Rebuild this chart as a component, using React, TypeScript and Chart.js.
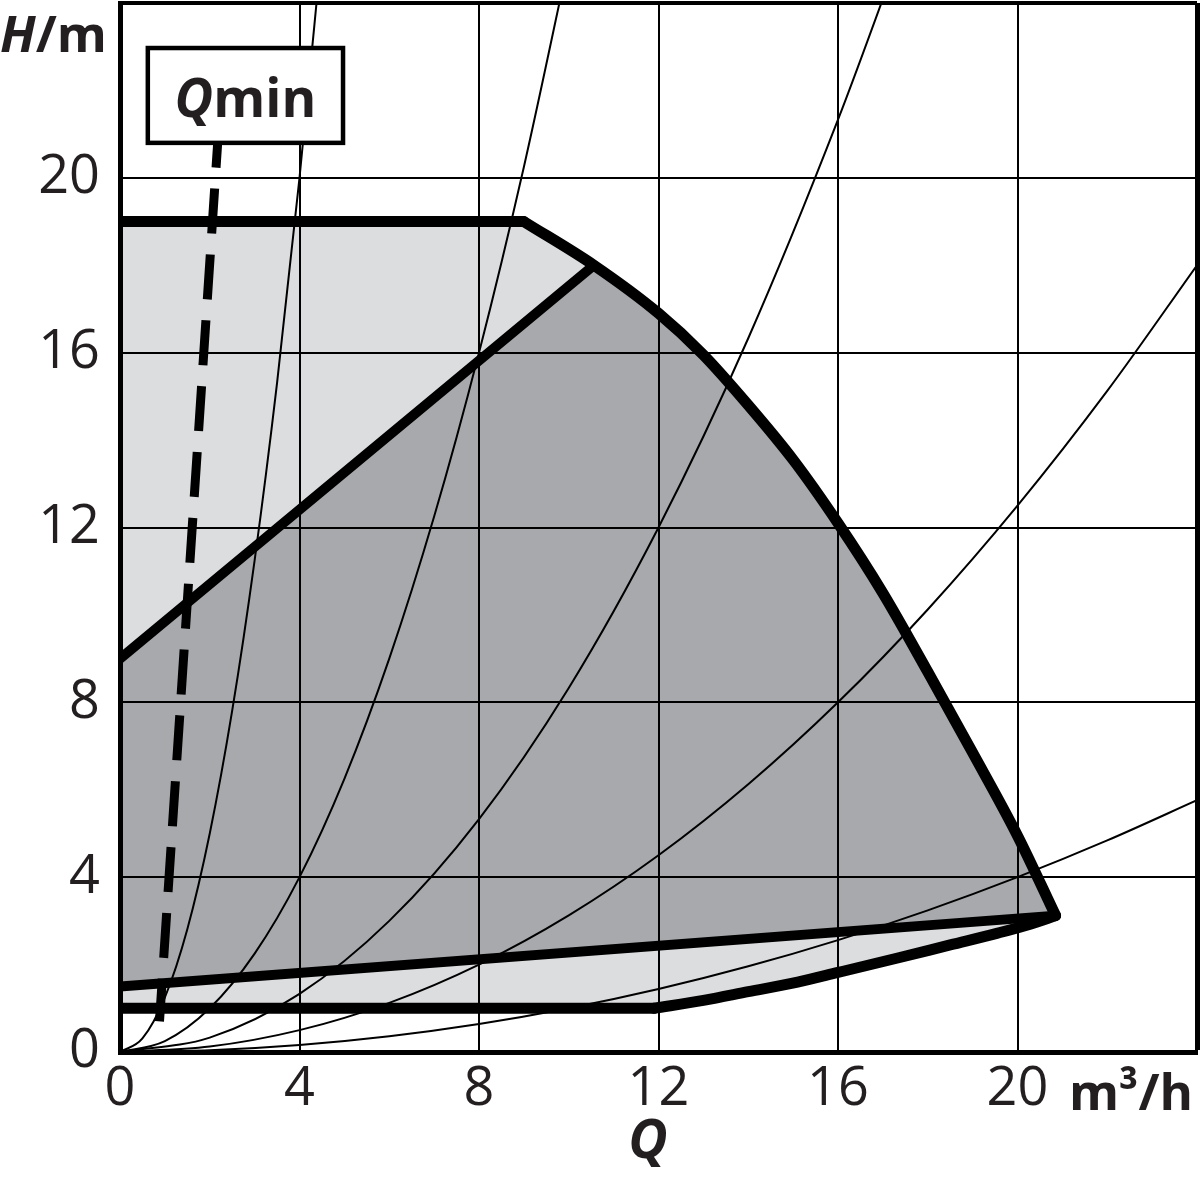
import React, { useEffect, useRef } from 'react';
import { Chart, registerables } from 'chart.js';

Chart.register(...registerables);

const FONT = "'Open Sans', 'Noto Sans', sans-serif";
const INK = '#231f20';
const LINE = '#000000';
const LIGHT_FILL = '#dcdddf';
const DARK_FILL = '#a7a9ac';

// axis ticks (labels shown)
const xTickLabels = [0, 4, 8, 12, 16, 20];
const yTickLabels = [0, 4, 8, 12, 16, 20];

// maximum pump curve (outer boundary)
const maxCurveQ = [0, 9, 10.56, 12, 13, 14, 15, 16, 17, 18, 19, 20, 20.85];
const maxCurveH = [19, 19, 18.0, 16.9, 15.95, 14.8, 13.55, 12.1, 10.5, 8.7, 6.85, 4.95, 3.12];

// minimum curve (lower boundary)
const minCurveQ = [0, 11.9, 13, 14, 15.1, 16, 17.33, 18.5, 19.56, 20.3, 20.85];
const minCurveH = [1, 1, 1.18, 1.38, 1.6, 1.82, 2.15, 2.45, 2.72, 2.93, 3.12];

// dark region edges
const darkEdgeQ = [0, 10.56];
const darkEdgeH = [9, 18.0];
const darkBottomQ = [0, 20.85];
const darkBottomH = [1.5, 3.12];

// Qmin dashed line
const qminQ = [2.18, 0.88];
const qminH = [20.85, 0.7];

// system curves
const sys1Q = [0, 0.5, 1, 1.5, 2, 2.5, 3, 3.5, 4, 4.5];
const sys1H = [0, 0.31, 1.25, 2.81, 5, 7.81, 11.25, 15.31, 20, 25.3];
const sys2Q = [0, 1, 2, 3, 4, 5, 6, 7, 8, 9, 10];
const sys2H = [0, 0.25, 1, 2.25, 4, 6.25, 9, 12.25, 16, 20.25, 25];
const sys3Q = [0, 2, 4, 6, 8, 10, 12, 14, 16, 17.5];
const sys3H = [0, 0.33, 1.33, 3, 5.33, 8.33, 12, 16.33, 21.33, 25.5];
const sys4Q = [0, 2, 4, 6, 8, 10, 12, 14, 16, 18, 20, 22, 24];
const sys4H = [0, 0.125, 0.5, 1.125, 2, 3.125, 4.5, 6.125, 8, 10.125, 12.5, 15.125, 18];
const sys5Q = [0, 2, 4, 6, 8, 10, 12, 14, 16, 18, 20, 22, 24];
const sys5H = [0, 0.04, 0.16, 0.36, 0.64, 1, 1.44, 1.96, 2.56, 3.24, 4, 4.84, 5.76];

const pts = (qs: number[], hs: number[]) => qs.map((q, i) => ({ x: q, y: hs[i] }));

type Run = { text: string; font: string; w?: number };
function drawRuns(ctx: CanvasRenderingContext2D, runs: Run[], x: number, y: number, align: string) {
  let total = 0;
  runs.forEach((r) => {
    ctx.font = r.font;
    r.w = ctx.measureText(r.text).width;
    total += r.w;
  });
  let cx = align === 'left' ? x : align === 'right' ? x - total : x - total / 2;
  ctx.textAlign = 'left';
  runs.forEach((r) => {
    ctx.font = r.font;
    ctx.fillText(r.text, cx, y);
    cx += r.w || 0;
  });
}

const labelsPlugin = {
  id: 'pumpLabels',
  afterDraw(chart: any) {
    const ctx: CanvasRenderingContext2D = chart.ctx;
    const xs = chart.scales.x;
    const ys = chart.scales.y;
    ctx.save();
    ctx.fillStyle = INK;
    ctx.textBaseline = 'alphabetic';
    drawRuns(ctx, [
      { text: 'H', font: `italic bold 51px ${FONT}` },
      { text: '/m', font: `bold 51px ${FONT}` },
    ], 0, 52, 'left');
    drawRuns(ctx, [{ text: 'm³/h', font: `bold 51px ${FONT}` }], 1193, 1110, 'right');
    drawRuns(ctx, [{ text: 'Q', font: `italic bold 54px ${FONT}` }], 648, 1158, 'center');

    // Qmin box
    const l = xs.getPixelForValue(0.62);
    const r = xs.getPixelForValue(4.97);
    const t = ys.getPixelForValue(22.97);
    const b = ys.getPixelForValue(20.8);
    ctx.fillStyle = '#ffffff';
    ctx.fillRect(l, t, r - l, b - t);
    ctx.strokeStyle = LINE;
    ctx.lineWidth = 4.5;
    ctx.strokeRect(l, t, r - l, b - t);
    ctx.fillStyle = INK;
    drawRuns(ctx, [
      { text: 'Q', font: `italic bold 53px ${FONT}` },
      { text: 'min', font: `bold 53px ${FONT}` },
    ], (l + r) / 2, 117, 'center');
    ctx.restore();
  },
};

export default function App() {
  const ref = useRef<HTMLCanvasElement>(null);
  useEffect(() => {
    const canvas = ref.current;
    if (!canvas) return;

    const maxAll = pts(maxCurveQ, maxCurveH);
    const minAll = pts(minCurveQ, minCurveH);
    const darkUpper = pts(darkEdgeQ, darkEdgeH).concat(maxAll.filter((p) => p.x > darkEdgeQ[1]));

    const thick = (data: any[], width: number, smooth: boolean) => ({
      data,
      borderColor: LINE,
      borderWidth: width,
      borderCapStyle: 'round',
      borderJoinStyle: 'round',
      cubicInterpolationMode: smooth ? 'monotone' : 'default',
      fill: false,
      pointRadius: 0,
      clip: 0,
    });
    const hidden = (data: any[], fill: any, color?: string) => ({
      data,
      borderColor: 'rgba(0,0,0,0)',
      borderWidth: 1,
      backgroundColor: color || 'rgba(0,0,0,0)',
      fill,
      pointRadius: 0,
    });
    const thin = (qs: number[], hs: number[]) => ({
      data: pts(qs, hs),
      borderColor: LINE,
      borderWidth: 2,
      fill: false,
      pointRadius: 0,
      cubicInterpolationMode: 'monotone' as const,
    });

    const chart = new Chart(canvas, {
      type: 'line',
      data: {
        datasets: [
          {
            data: pts(qminQ, qminH),
            borderColor: LINE,
            borderWidth: 9,
            borderDash: [45, 21],
            borderDashOffset: 18,
            borderCapStyle: 'butt',
            fill: false,
            pointRadius: 0,
          },
          thick(maxAll.slice(0, 2), 11, false), // 1 flat top
          thick(maxAll.slice(1), 11, true), // 2 curved max
          thick(pts(darkBottomQ, darkBottomH), 10, false), // 3
          thick(minAll.slice(0, 2), 11, false), // 4 flat min
          thick(minAll.slice(1), 11, true), // 5 curved min
          thick(pts(darkEdgeQ, darkEdgeH), 10, false), // 6
          hidden(darkUpper, 8, DARK_FILL), // 7
          hidden(pts(darkBottomQ, darkBottomH), false), // 8
          hidden(maxAll, 10, LIGHT_FILL), // 9
          hidden(minAll, false), // 10
          thin(sys1Q, sys1H),
          thin(sys2Q, sys2H),
          thin(sys3Q, sys3H),
          thin(sys4Q, sys4H),
          thin(sys5Q, sys5H),
        ] as any,
      },
      options: {
        responsive: false,
        animation: false,
        devicePixelRatio: 1,
        events: [],
        layout: { padding: { left: 0, top: 3, right: 3, bottom: 0 } },
        elements: { point: { radius: 0 }, line: { tension: 0 } },
        plugins: {
          legend: { display: false },
          tooltip: { enabled: false },
          title: { display: false },
          filler: { drawTime: 'beforeDraw' },
        } as any,
        scales: {
          x: {
            type: 'linear',
            min: 0,
            max: 24,
            afterFit: (s: any) => {
              s.height = 125;
              s.paddingLeft = 0;
              s.paddingRight = 0;
              s.paddingTop = 0;
              s.paddingBottom = 0;
            },
            ticks: {
              stepSize: 4,
              autoSkip: false,
              maxRotation: 0,
              padding: 5,
              color: INK,
              font: { family: FONT, size: 54 },
              callback: (v: any) => (xTickLabels.includes(Number(v)) ? String(v) : ''),
            },
            grid: {
              color: LINE,
              lineWidth: (c: any) => (c.tick && c.tick.value === 24 ? 5 : 2),
              drawTicks: false,
            },
            border: { color: LINE, width: 5 },
          },
          y: {
            type: 'linear',
            min: 0,
            max: 24,
            afterFit: (s: any) => {
              s.width = 120;
              s.paddingLeft = 0;
              s.paddingRight = 0;
              s.paddingTop = 0;
              s.paddingBottom = 0;
            },
            ticks: {
              stepSize: 4,
              autoSkip: false,
              padding: 20,
              color: INK,
              font: { family: FONT, size: 54 },
              callback: (v: any) => (yTickLabels.includes(Number(v)) ? String(v) : ''),
            },
            grid: {
              color: LINE,
              lineWidth: (c: any) => (c.tick && c.tick.value === 24 ? 4 : 2),
              drawTicks: false,
            },
            border: { color: LINE, width: 5 },
          },
        } as any,
      },
      plugins: [labelsPlugin],
    });
    return () => chart.destroy();
  }, []);

  return (
    <div style={{ position: 'absolute', left: 0, top: 0, width: 1200, height: 1177, background: '#ffffff' }}>
      <canvas ref={ref} width={1200} height={1177} style={{ display: 'block', width: 1200, height: 1177 }} />
    </div>
  );
}
